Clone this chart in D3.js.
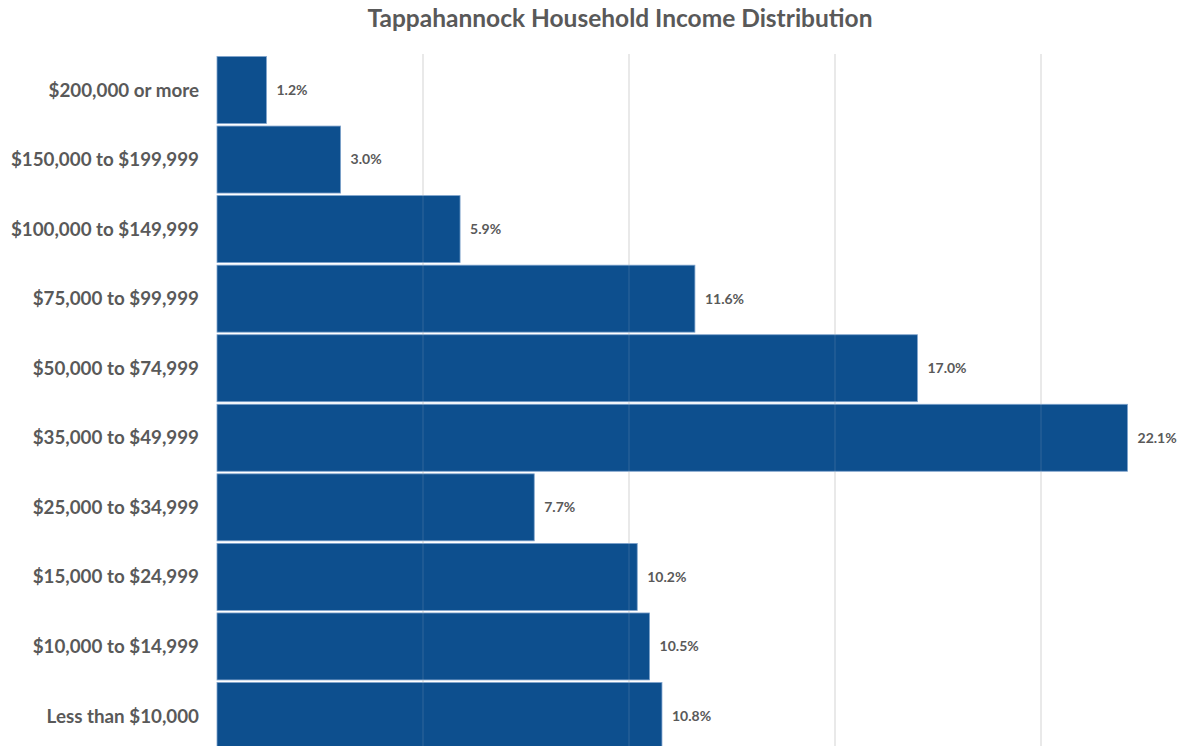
<!DOCTYPE html>
<html>
<head>
<meta charset="utf-8">
<script src="https://cdn.jsdelivr.net/npm/d3@7"></script>
<style>
  body { margin: 0; background: #fff; }
  text { font-family: Lato, "Open Sans", sans-serif; font-weight: 700; fill: #595959; }
</style>
</head>
<body>
<svg id="chart" width="1182" height="746"></svg>
<script>
const title = 'Tappahannock Household Income Distribution'
const categories = [
  '$200,000 or more',
  '$150,000 to $199,999',
  '$100,000 to $149,999',
  '$75,000 to $99,999',
  '$50,000 to $74,999',
  '$35,000 to $49,999',
  '$25,000 to $34,999',
  '$15,000 to $24,999',
  '$10,000 to $14,999',
  'Less than $10,000'
]
const shares = [1.2, 3.0, 5.9, 11.6, 17.0, 22.1, 7.7, 10.2, 10.5, 10.8]
const gridTicks = [5, 10, 15, 20]

const svg = d3.select('#chart')

const x = d3.scaleLinear().domain([0, 25]).range([217, 1247])
const y = d3.scaleBand()
  .domain(categories)
  .range([56.5, 749.5])
  .paddingInner(0.037)
  .paddingOuter(0)

svg.append('text')
  .attr('x', 620)
  .attr('y', 27)
  .attr('text-anchor', 'middle')
  .style('font-size', '24.5px')
  .text(title)

const drawGrid = (opacity) => {
  svg.append('g')
    .selectAll('line')
    .data(gridTicks)
    .enter()
    .append('line')
    .attr('x1', d => x(d))
    .attr('x2', d => x(d))
    .attr('y1', 54)
    .attr('y2', 746)
    .attr('stroke', '#d9d9d9')
    .attr('stroke-opacity', opacity)
    .attr('stroke-width', 1)
}

drawGrid(1)

// bars
svg.append('g')
  .selectAll('rect')
  .data(shares)
  .enter()
  .append('rect')
  .attr('x', x(0))
  .attr('y', (d, i) => y(categories[i]))
  .attr('width', d => x(d) - x(0))
  .attr('height', y.bandwidth())
  .attr('fill', '#0d4f8e')
  .attr('stroke', '#7fa3cc')
  .attr('stroke-width', 0.8)

// faint gridlines showing through the bars
drawGrid(0.18)

// category labels
svg.append('g')
  .selectAll('text')
  .data(categories)
  .enter()
  .append('text')
  .attr('x', 199)
  .attr('y', d => y(d) + y.bandwidth() / 2)
  .attr('dy', '0.35em')
  .attr('text-anchor', 'end')
  .style('font-size', '18.8px')
  .text(d => d)

// value labels
svg.append('g')
  .selectAll('text')
  .data(shares)
  .enter()
  .append('text')
  .attr('x', d => x(d) + 10)
  .attr('y', (d, i) => y(categories[i]) + y.bandwidth() / 2)
  .attr('dy', '0.35em')
  .style('font-size', '14px')
  .text(d => d3.format('.1f')(d) + '%')
</script>
</body>
</html>
